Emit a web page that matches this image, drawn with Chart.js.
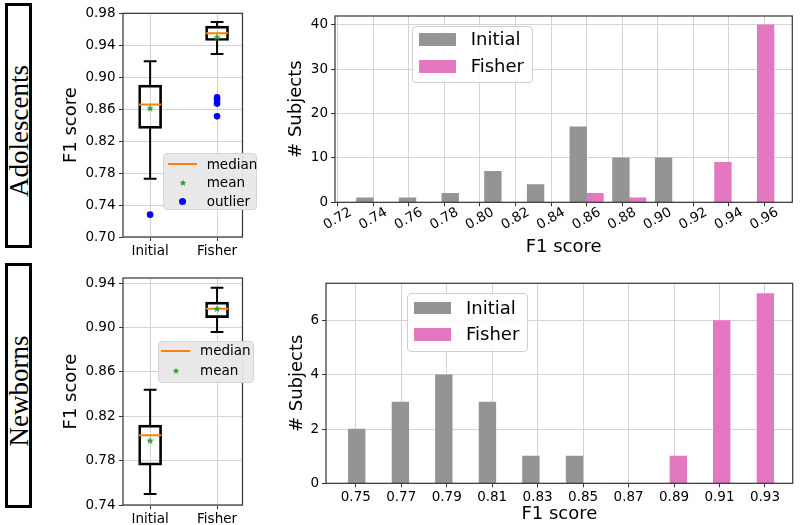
<!DOCTYPE html>
<html>
<head>
<meta charset="utf-8">
<script src="https://cdn.jsdelivr.net/npm/chart.js@4/dist/chart.umd.min.js"></script>
<style>
  body { margin: 0; width: 800px; height: 525px; position: relative; background: #fff; overflow: hidden; font-family: "DejaVu Sans"; }
  .pane { position: absolute; }
  .rowlabel { position: absolute; border: 3px solid #000; box-sizing: border-box; }
  .rowlabel span { position: absolute; left: 50%; top: calc(50% + 5px); transform: translate(-50%, -50%) rotate(-90deg);
                   font-family: "Liberation Serif"; font-size: 27px; line-height: 1; white-space: nowrap; }
  .legend { position: absolute; box-sizing: border-box; border-radius: 4px; z-index: 5; }
  .legend.hist { background: rgba(255,255,255,0.85); border: 1px solid #cfcfcf; }
  .legend.box { background: rgba(232,232,232,0.95); border: 1px solid #d6d6d6; }
  .legend .txt { position: absolute; line-height: 1; white-space: nowrap; color: #000; }
  .legend .ico { position: absolute; }
</style>
</head>
<body>
<div class="rowlabel" style="left:5px;top:3px;width:27px;height:245px"><span id="row0"></span></div>
<div class="rowlabel" style="left:5px;top:263px;width:27px;height:245px"><span id="row1"></span></div>

<canvas class="pane" id="boxAdo" width="200" height="262" style="left:50px;top:0px"></canvas>
<canvas class="pane" id="histAdo" width="520" height="262" style="left:280px;top:0px"></canvas>
<canvas class="pane" id="boxNew" width="200" height="263" style="left:50px;top:262px"></canvas>
<canvas class="pane" id="histNew" width="520" height="263" style="left:280px;top:262px"></canvas>

<script>
const rowLabels = ["Adolescents", "Newborns"];
const groups = ["Initial", "Fisher"];

// box stats: [lower whisker, Q1, median, Q3, upper whisker]
const adoInitialBox = [0.773, 0.836, 0.866, 0.890, 0.920];
const adoFisherBox = [0.929, 0.946, 0.955, 0.964, 0.969];
const adoMeans = [0.861, 0.950];
const adoInitialOutliers = [0.728];
const adoFisherOutliers = [0.875, 0.872, 0.867, 0.851];
const adoBoxTicks = [0.70, 0.74, 0.78, 0.82, 0.86, 0.90, 0.94, 0.98];

const newInitialBox = [0.750, 0.776, 0.803, 0.812, 0.844];
const newFisherBox = [0.896, 0.909, 0.917, 0.923, 0.936];
const newMeans = [0.798, 0.917];
const newBoxTicks = [0.74, 0.78, 0.82, 0.86, 0.90, 0.94];

// histograms (bin position, counts)
const adoBins = [0.740, 0.764, 0.788, 0.812, 0.836, 0.860, 0.884, 0.908, 0.932, 0.956];
const adoInitialCounts = [1, 1, 2, 7, 4, 17, 10, 10, 0, 0];
const adoFisherCounts = [0, 0, 0, 0, 0, 2, 1, 0, 9, 40];
const adoHistTicks = [0.72, 0.74, 0.76, 0.78, 0.80, 0.82, 0.84, 0.86, 0.88, 0.90, 0.92, 0.94, 0.96];
const adoCountTicks = [0, 10, 20, 30, 40];

const newBins = [0.7541, 0.7733, 0.7924, 0.8116, 0.8307, 0.8499, 0.8690, 0.8882, 0.9073, 0.9265];
const newInitialCounts = [2, 3, 4, 3, 1, 1, 0, 0, 0, 0];
const newFisherCounts = [0, 0, 0, 0, 0, 0, 0, 1, 6, 7];
const newHistTicks = [0.75, 0.77, 0.79, 0.81, 0.83, 0.85, 0.87, 0.89, 0.91, 0.93];
const newCountTicks = [0, 2, 4, 6];

const boxLegendAdo = ["median", "mean", "outlier"];
const boxLegendNew = ["median", "mean"];

const GRAY = "#949494";
const PINK = "#e377c2";
const GRID = "#d4d4d4";
const BOX_HALF = 0.165;
const CAP_HALF = 0.095;

Chart.defaults.font.family = "DejaVu Sans";
Chart.defaults.color = "#000";
Chart.defaults.animation = false;
Chart.defaults.events = [];
Chart.defaults.plugins.legend.display = false;
Chart.defaults.plugins.tooltip.enabled = false;

document.getElementById("row0").textContent = rowLabels[0];
document.getElementById("row1").textContent = rowLabels[1];

const frame = {
  id: "frame",
  afterDatasetsDraw(chart) {
    const { ctx, chartArea: a } = chart;
    ctx.save();
    ctx.strokeStyle = "#333";
    ctx.lineWidth = 1.2;
    ctx.strokeRect(a.left, a.top, a.right - a.left, a.bottom - a.top);
    ctx.restore();
  }
};

function starImage(color, r) {
  const c = document.createElement("canvas");
  const s = Math.ceil(r * 2) + 2;
  c.width = c.height = s;
  const g = c.getContext("2d");
  g.fillStyle = color;
  g.beginPath();
  for (let k = 0; k < 10; k++) {
    const rad = k % 2 ? r * 0.42 : r;
    const a = -Math.PI / 2 + k * Math.PI / 5;
    g.lineTo(s / 2 + rad * Math.cos(a), s / 2 + rad * Math.sin(a));
  }
  g.closePath();
  g.fill();
  return c;
}
const star = starImage("#2ca02c", 4);

function fixedTicks(values) {
  return (scale) => { scale.ticks = values.map((v) => ({ value: v })); };
}

function makeBox(id, boxes, means, outliers, yTicks, yMin, yMax, geom) {
  const whiskers = [], medians = [], meanPts = [], outPts = [];
  boxes.forEach((b, i) => {
    const x = i + 1;
    whiskers.push({ x, y: b[3] }, { x, y: b[4] }, { x, y: null },
                  { x, y: b[1] }, { x, y: b[0] }, { x, y: null },
                  { x: x - CAP_HALF, y: b[4] }, { x: x + CAP_HALF, y: b[4] }, { x, y: null },
                  { x: x - CAP_HALF, y: b[0] }, { x: x + CAP_HALF, y: b[0] }, { x, y: null });
    medians.push({ x: x - BOX_HALF, y: b[2] }, { x: x + BOX_HALF, y: b[2] }, { x, y: null });
    meanPts.push({ x, y: means[i] });
    outliers[i].forEach((v) => outPts.push({ x, y: v }));
  });

  new Chart(document.getElementById(id), {
    type: "bar",
    data: {
      datasets: [
        { type: "line", data: meanPts, showLine: false, pointStyle: star, pointRadius: 4 },
        { type: "line", data: medians, borderColor: "#ff7f0e", borderWidth: 2, pointRadius: 0, spanGaps: false },
        { type: "line", data: outPts, showLine: false, pointStyle: "circle", pointRadius: 3.3,
          backgroundColor: "#0000ff", borderColor: "#0000ff", borderWidth: 0 },
        { type: "line", data: whiskers, borderColor: "#000", borderWidth: 2, pointRadius: 0, spanGaps: false },
        { type: "bar", data: boxes.map((b, i) => ({ x: i + 1, y: [b[1], b[3]] })),
          backgroundColor: "rgba(0,0,0,0)", borderColor: "#000", borderWidth: 2,
          borderSkipped: false, barThickness: 23 }
      ]
    },
    options: {
      responsive: false,
      layout: { padding: { top: geom.padTop, right: geom.padRight, left: 0, bottom: 0 } },
      scales: {
        x: {
          type: "linear", min: 0.595, max: 2.38, offset: false,
          grid: { color: GRID, offset: false, tickColor: "#333", tickLength: 4 },
          border: { display: false },
          afterBuildTicks: fixedTicks([1, 2]),
          afterFit: (s) => { s.height = geom.xHeight; },
          ticks: { font: { size: 13.5 }, padding: 2, autoSkip: false, maxRotation: 0,
                   callback: (v) => groups[v - 1] }
        },
        y: {
          min: yMin, max: yMax,
          grid: { color: GRID, tickColor: "#333", tickLength: 4 },
          border: { display: false },
          afterBuildTicks: fixedTicks(yTicks),
          afterFit: (s) => { s.width = geom.yWidth; },
          ticks: { font: { size: 13.5 }, padding: 3.5, callback: (v) => v.toFixed(2) },
          title: { display: true, text: "F1 score", font: { size: 18 }, padding: { top: geom.yTitlePad, bottom: 0 } }
        }
      }
    },
    plugins: [frame]
  });
}

function makeHist(id, bins, initial, fisher, xTicks, xMin, xMax, yTicks, yMax, geom) {
  new Chart(document.getElementById(id), {
    type: "bar",
    data: {
      datasets: [
        { label: groups[0], data: bins.map((b, i) => ({ x: b, y: initial[i] })), backgroundColor: GRAY, borderWidth: 0, barThickness: 16.7 },
        { label: groups[1], data: bins.map((b, i) => ({ x: b, y: fisher[i] })), backgroundColor: PINK, borderWidth: 0, barThickness: 16.7 }
      ]
    },
    options: {
      responsive: false,
      layout: { padding: { top: geom.padTop, right: geom.padRight, left: 0, bottom: 0 } },
      scales: {
        x: {
          type: "linear", min: xMin, max: xMax, offset: false,
          grid: { color: GRID, offset: false, tickColor: "#333", tickLength: 4 },
          border: { display: false },
          afterBuildTicks: fixedTicks(xTicks),
          afterFit: (s) => { s.height = geom.xHeight; },
          ticks: { font: { size: 13.5 }, padding: geom.xTickPad, autoSkip: false,
                   minRotation: geom.rot, maxRotation: geom.rot, labelOffset: geom.labelOffset,
                   callback: (v) => v.toFixed(2) },
          title: { display: true, text: "F1 score", font: { size: 18 }, padding: { top: 0, bottom: geom.xTitlePad } }
        },
        y: {
          min: 0, max: yMax,
          grid: { color: GRID, tickColor: "#333", tickLength: 4 },
          border: { display: false },
          afterBuildTicks: fixedTicks(yTicks),
          afterFit: (s) => { s.width = geom.yWidth; },
          ticks: { font: { size: 13.5 }, padding: 3 },
          title: { display: true, text: "# Subjects", font: { size: 18 }, padding: { top: geom.yTitlePad, bottom: 0 } }
        }
      }
    },
    plugins: [frame]
  });
}

makeBox("boxAdo", [adoInitialBox, adoFisherBox], adoMeans, [adoInitialOutliers, adoFisherOutliers],
        adoBoxTicks, 0.70, 0.98, { padTop: 13.3, padRight: 7.5, xHeight: 25, yWidth: 73, yTitlePad: 11 });
makeBox("boxNew", [newInitialBox, newFisherBox], newMeans, [[], []],
        newBoxTicks, 0.74, 0.9448, { padTop: 16, padRight: 7.5, xHeight: 20, yWidth: 73, yTitlePad: 11 });
makeHist("histAdo", adoBins, adoInitialCounts, adoFisherCounts, adoHistTicks, 0.7185, 0.9757,
         adoCountTicks, 42, { padTop: 16, padRight: 7.7, xHeight: 59.7, yWidth: 55, yTitlePad: 6,
                              xTitlePad: 3.7, xTickPad: -2, rot: 30, labelOffset: 13 });
makeHist("histNew", newBins, newInitialCounts, newFisherCounts, newHistTicks, 0.7369, 0.9422,
         newCountTicks, 7.38, { padTop: 21.3, padRight: 7.3, xHeight: 41.7, yWidth: 46, yTitlePad: 6.5,
                                xTitlePad: 0, xTickPad: 2, rot: 0, labelOffset: 0 });

// legends drawn as html boxes over the charts
function legendBox(cls, x, y, w, h) {
  const d = document.createElement("div");
  d.className = "legend " + cls;
  Object.assign(d.style, { left: x + "px", top: y + "px", width: w + "px", height: h + "px" });
  document.body.appendChild(d);
  return { el: d, x, y };
}
function addText(lg, text, tx, cy, size) {
  const t = document.createElement("div");
  t.className = "txt";
  t.textContent = text;
  Object.assign(t.style, { left: (tx - lg.x - 1) + "px", top: (cy - lg.y - 1 - size * 0.5) + "px", fontSize: size + "px" });
  lg.el.appendChild(t);
}
function addIcon(lg, node, cx, cy, w, h) {
  node.classList.add("ico");
  Object.assign(node.style, { left: (cx - w / 2 - lg.x - 1) + "px", top: (cy - h / 2 - lg.y - 1) + "px", width: w + "px", height: h + "px" });
  lg.el.appendChild(node);
}
function block(color) {
  const d = document.createElement("div");
  d.style.background = color;
  return d;
}
function dot(color) {
  const d = block(color);
  d.style.borderRadius = "50%";
  return d;
}

function histLegend(x, y, w, h, patchX, rows, textX) {
  const lg = legendBox("hist", x, y, w, h);
  [GRAY, PINK].forEach((col, i) => {
    addIcon(lg, block(col), patchX, rows[i], 37, 12.7);
    addText(lg, groups[i], textX, rows[i], 18);
  });
}
histLegend(411.7, 25.7, 121, 57.6, 437.3, [39.5, 66.3], 470.7);
histLegend(406.7, 292.7, 121.6, 59, 432.7, [308, 334.3], 466);

function boxLegend(x, y, w, h, iconX, rows, textX, names) {
  const lg = legendBox("box", x, y, w, h);
  names.forEach((name, i) => {
    let icon;
    if (name === "median") icon = [block("#ff7f0e"), 29, 2];
    else if (name === "mean") icon = [starImage("#2ca02c", 3.6), 10, 10];
    else icon = [dot("#0000ff"), 7, 7];
    addIcon(lg, icon[0], iconX, rows[i], icon[1], icon[2]);
    addText(lg, name, textX, rows[i], 13.5);
  });
}
boxLegend(163.3, 153.3, 93.4, 56.7, 182.7, [164.3, 183, 202], 206.7, boxLegendAdo);
boxLegend(158.3, 340.7, 95.7, 42.6, 176, [351, 371], 200, boxLegendNew);
</script>
</body>
</html>
